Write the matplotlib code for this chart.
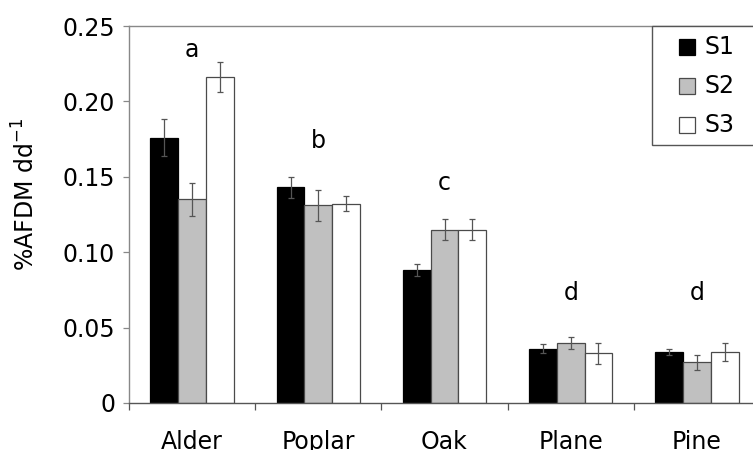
import matplotlib
matplotlib.use("Agg")
import matplotlib.pyplot as plt
import numpy as np
from matplotlib.patches import Rectangle

plt.rcParams['font.family'] = ['DejaVu Sans']

species = ["Alder", "Poplar", "Oak", "Plane", "Pine"]
series = ["S1", "S2", "S3"]
s1 = [0.176, 0.143, 0.088, 0.036, 0.034]
s2 = [0.135, 0.131, 0.115, 0.040, 0.027]
s3 = [0.216, 0.132, 0.115, 0.033, 0.034]
s1_err = [0.012, 0.007, 0.004, 0.003, 0.002]
s2_err = [0.011, 0.010, 0.007, 0.004, 0.005]
s3_err = [0.010, 0.005, 0.007, 0.007, 0.006]
group_letters = ["a", "b", "c", "d", "d"]
yticks = [0, 0.05, 0.10, 0.15, 0.20, 0.25]
ytick_labels = ["0", "0.05", "0.10", "0.15", "0.20", "0.25"]

fills = ["#000000", "#c0c0c0", "#ffffff"]
edges = ["#000000", "#4a4a4a", "#4a4a4a"]

W, H = 753, 450
fig = plt.figure(figsize=(W / 100, H / 100), dpi=100)
ax = fig.add_axes([129 / W, 1 - 403 / H, 631 / W, (403 - 26) / H])

x = np.arange(len(species))
w = 0.22
values = [s1, s2, s3]
errors = [s1_err, s2_err, s3_err]
for i, (vals, errs) in enumerate(zip(values, errors)):
    ax.bar(x + (i - 1) * w, vals, w, color=fills[i], edgecolor=edges[i],
           linewidth=0.9, zorder=2)
    ax.errorbar(x + (i - 1) * w, vals, yerr=errs, fmt="none",
                ecolor="#555555", elinewidth=0.9, capsize=2, capthick=0.9,
                zorder=3)

# significance letters above each group
letter_y = [0.234, 0.174, 0.146, 0.073, 0.073]
for xi, lab, ly in zip(x, group_letters, letter_y):
    ax.text(xi, ly, lab, ha="center", va="center", fontsize=17)

ax.set_xlim(-0.5, 4.5)
ax.set_ylim(0, 0.25)
ax.set_yticks(yticks)
ax.set_yticklabels(ytick_labels, fontsize=17)
ax.set_xticks(x)
ax.set_xticklabels(species, fontsize=17)
ax.set_xticks(np.arange(-0.5, 5.0, 1.0), minor=True)
ax.tick_params(axis="x", which="major", length=0, pad=19.5)
ax.tick_params(axis="x", which="minor", length=5, color="#555555", width=0.9)
ax.tick_params(axis="y", length=4, color="#888888", width=0.9, pad=6)

for side in ["left", "bottom", "top"]:
    ax.spines[side].set_color("#888888")
    ax.spines[side].set_linewidth(1.0)
ax.spines["bottom"].set_color("#555555")
ax.spines["right"].set_visible(False)

ax.set_ylabel("%AFDM dd$^{-1}$", fontsize=17)
ax.yaxis.set_label_coords(-0.142, 0.554)

# legend box in the upper-right corner
def fx(px):
    return px / W

def fy(py):
    return 1 - py / H

fig.add_artist(Rectangle((fx(652), fy(145)), fx(760) - fx(652), fy(26) - fy(145),
                         transform=fig.transFigure, facecolor="white",
                         edgecolor="#555555", linewidth=1.0, zorder=5))
row_y = [47, 86, 125]
for i, (lab, ry) in enumerate(zip(series, row_y)):
    fig.add_artist(Rectangle((fx(679), fy(ry + 8)), fx(16), 16 / H,
                             transform=fig.transFigure, facecolor=fills[i],
                             edgecolor=edges[i], linewidth=0.9, zorder=6))
    fig.text(fx(705), fy(ry), lab, ha="left", va="center", fontsize=17,
             zorder=6)

fig.savefig("out.png", dpi=100)
